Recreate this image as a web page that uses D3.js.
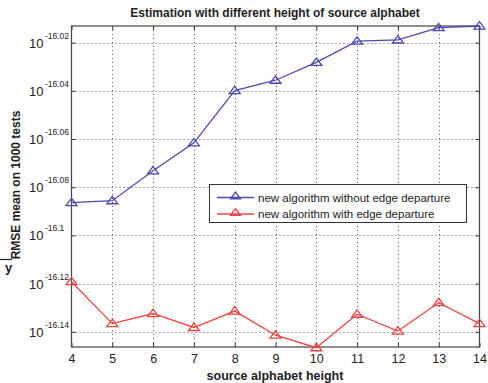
<!DOCTYPE html>
<html lang="en">
<head>
<meta charset="UTF-8">
<title>Estimation with different height of source alphabet</title>
<style>
    body { margin: 0; background: #fff; }
    svg { font-family: "Liberation Sans", Arial, sans-serif; }
</style>
<script src="https://d3js.org/d3.v7.min.js"></script>
</head>
<body>
<script>
// source alphabet height
const heights = [4, 5, 6, 7, 8, 9, 10, 11, 12, 13, 14];
// log10 of RMSE mean (exponents)
const withoutEdge = [-16.0864, -16.0856, -16.0732, -16.0616, -16.0399, -16.0356, -16.0282, -16.0194, -16.0189, -16.0138, -16.0131];
const withEdge = [-16.1192, -16.1366, -16.1324, -16.1382, -16.1314, -16.1414, -16.1466, -16.1327, -16.1397, -16.1279, -16.1366];
const yTicks = [-16.02, -16.04, -16.06, -16.08, -16.1, -16.12, -16.14];
const seriesNames = ["new algorithm without edge departure", "new algorithm with edge departure"];
const seriesColors = ["#4a4ab4", "#ee4444"];

const W = 488, H = 383;
const m = { left: 71.5, right: 479.5, top: 26, bottom: 347 };

const svg = d3.select("body").append("svg").attr("width", W).attr("height", H);

const x = d3.scaleLinear().domain([4, 14]).range([m.left, m.right]);
const y = d3.scaleLinear().domain([-16.1463, -16.0131]).range([m.bottom, m.top]);

// grid
const grid = svg.append("g").attr("stroke", "#555").attr("stroke-width", 1).attr("stroke-dasharray", "1,3");
grid.selectAll(".gx").data(heights.slice(1, -1)).join("line")
    .attr("x1", d => Math.round(x(d)) + 0.5).attr("x2", d => Math.round(x(d)) + 0.5)
    .attr("y1", m.top).attr("y2", m.bottom);
grid.selectAll(".gy").data(yTicks).join("line")
    .attr("x1", m.left).attr("x2", m.right)
    .attr("y1", d => Math.round(y(d)) + 0.5).attr("y2", d => Math.round(y(d)) + 0.5);

// axes (ticks inside, on all four sides like matlab)
const xAxis = d3.axisBottom(x).tickValues(heights).tickSize(-4).tickPadding(7).tickFormat(d3.format("d"));
const gx = svg.append("g").attr("transform", `translate(0,${m.bottom})`).call(xAxis);
gx.select(".domain").remove();
gx.selectAll("text").attr("font-size", 12.5).attr("fill", "#222");
gx.selectAll("line").attr("stroke", "#333");

const gxt = svg.append("g").attr("transform", `translate(0,${m.top})`)
    .call(d3.axisTop(x).tickValues(heights).tickSize(-4).tickFormat(""));
gxt.select(".domain").remove();
gxt.selectAll("line").attr("stroke", "#333");

const yAxis = d3.axisLeft(y).tickValues(yTicks).tickSize(-4).tickFormat("");
const gy = svg.append("g").attr("transform", `translate(${m.left},0)`).call(yAxis);
gy.select(".domain").remove();
gy.selectAll("line").attr("stroke", "#333");

const gyr = svg.append("g").attr("transform", `translate(${m.right},0)`)
    .call(d3.axisRight(y).tickValues(yTicks).tickSize(-4).tickFormat(""));
gyr.select(".domain").remove();
gyr.selectAll("line").attr("stroke", "#333");

// tick labels as 10^exp
const yl = svg.append("g");
yTicks.forEach(t => {
    const t1 = yl.append("text").attr("x", 29).attr("y", y(t) + 5).attr("font-size", 13).attr("fill", "#222");
    t1.append("tspan").text("10");
    t1.append("tspan").attr("dx", 1.5).attr("dy", -9).attr("font-size", 8.5).text(String(t));
});

// frame
svg.append("rect").attr("x", m.left).attr("y", m.top)
    .attr("width", m.right - m.left).attr("height", m.bottom - m.top)
    .attr("fill", "none").attr("stroke", "#444").attr("stroke-width", 1.2);

// series
const line = d3.line().x((d, i) => x(heights[i])).y(d => y(d));
function tri(cx, cy, s) {
    return `M${cx},${cy - s * 0.8}L${cx + s},${cy + s * 0.55}L${cx - s},${cy + s * 0.55}Z`;
}
[withoutEdge, withEdge].forEach((vals, k) => {
    svg.append("path").datum(vals).attr("d", line)
        .attr("fill", "none").attr("stroke", seriesColors[k]).attr("stroke-width", 1.3);
    svg.append("g").selectAll("path").data(vals).join("path")
        .attr("d", (d, i) => tri(x(heights[i]), y(d), 5.5))
        .attr("fill", "none").attr("stroke", seriesColors[k]).attr("stroke-width", 1.3);
});

// legend
const lg = svg.append("g");
lg.append("rect").attr("x", 209.5).attr("y", 184.5).attr("width", 257).attr("height", 38)
    .attr("fill", "#fff").attr("stroke", "#333").attr("stroke-width", 1);
seriesNames.forEach((name, k) => {
    const ly = 197.5 + k * 16.5;
    lg.append("line").attr("x1", 217).attr("x2", 254).attr("y1", ly).attr("y2", ly)
        .attr("stroke", seriesColors[k]).attr("stroke-width", 1.3);
    lg.append("path").attr("d", tri(235.5, ly - 1.5, 5)).attr("fill", "none")
        .attr("stroke", seriesColors[k]).attr("stroke-width", 1.3);
    lg.append("text").attr("x", 258).attr("y", ly + 4).attr("font-size", 11.5).attr("fill", "#222").text(name);
});

// title and axis labels
svg.append("text").attr("x", 275).attr("y", 17).attr("text-anchor", "middle")
    .attr("font-weight", "bold").attr("font-size", 12).attr("fill", "#222")
    .text("Estimation with different height of source alphabet");
svg.append("text").attr("x", 275).attr("y", 380).attr("text-anchor", "middle")
    .attr("font-weight", "bold").attr("font-size", 12.5).attr("fill", "#222")
    .text("source alphabet height");
svg.append("text").attr("transform", "translate(20,185) rotate(-90)").attr("text-anchor", "middle")
    .attr("font-weight", "bold").attr("font-size", 12).attr("fill", "#222")
    .text("RMSE mean on 1000 tests");
svg.append("line").attr("x1", 0).attr("x2", 12).attr("y1", 259.5).attr("y2", 259.5)
    .attr("stroke", "#222").attr("stroke-width", 1.2);
svg.append("text").attr("x", 5).attr("y", 272).attr("font-weight", "bold").attr("font-size", 13)
    .attr("fill", "#222").text("y");
</script>
</body>
</html>
